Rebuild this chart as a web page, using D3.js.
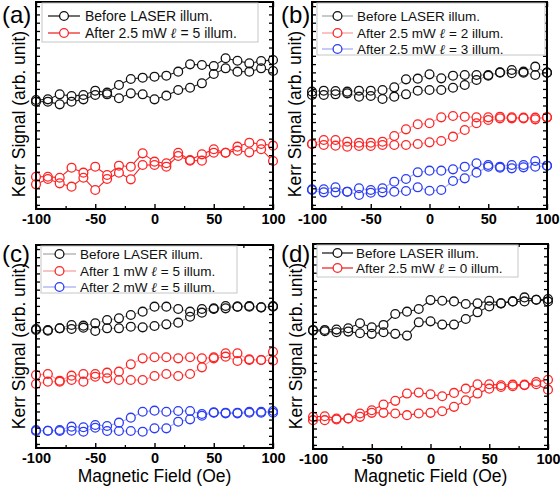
<!DOCTYPE html>
<html><head><meta charset="utf-8">
<script src="https://cdn.jsdelivr.net/npm/d3@7"></script>
<style>body{margin:0;background:#fff}svg{display:block}</style>
</head><body><svg id="c" width="560" height="487"></svg>
<script>
// ---------- DATA ----------
const fieldOe = [-100,-90,-80,-70,-60,-50,-40,-30,-20,-10,0,10,20,30,40,50,60,70,80,90,100];
const xTickLabels = [-100,-50,0,50,100];
const xMinorTicks = [-75,-25,25,75];

// panel (a)
const aBeforeUp   = [13.16,13.24,13.85,13.65,13.77,14.29,14.05,14.98,15.70,15.86,15.98,16.10,16.59,17.47,17.39,17.27,18.20,17.91,17.59,17.87,18.00];
const aBeforeDown = [12.96,12.96,12.64,12.96,13.24,13.77,13.85,13.37,13.97,13.85,13.24,13.69,14.37,14.65,15.18,16.30,16.99,16.59,16.59,16.99,16.67];
const aAfterUp    = [3.90,3.90,3.78,4.99,4.39,5.11,4.11,5.23,5.11,6.72,5.72,5.52,6.80,5.92,6.60,7.21,6.80,7.53,8.01,7.85,7.65];
const aAfterDown  = [2.98,3.62,3.10,2.70,3.78,2.29,3.62,4.39,3.58,5.31,5.31,5.11,6.40,5.84,5.84,6.80,6.80,7.05,6.84,7.21,5.80];
// panel (b)
const bBeforeUp   = [14.17,14.29,14.25,14.17,14.29,14.29,14.37,14.69,15.66,15.74,16.26,15.78,16.10,16.18,16.18,16.18,16.51,16.79,16.59,17.19,16.47];
const bBeforeDown = [13.77,13.77,13.85,13.97,13.57,13.65,13.29,13.57,13.85,14.29,14.37,14.37,14.65,14.98,15.58,16.10,16.47,16.39,16.47,16.18,16.47];
const bL2Up       = [7.85,8.33,8.33,8.13,8.01,8.01,8.13,8.82,9.62,10.23,10.35,11.07,11.23,11.15,11.07,11.07,11.15,11.07,11.03,11.03,11.07];
const bL2Down     = [7.85,7.73,7.65,7.53,7.61,7.61,7.73,7.73,7.73,7.85,8.05,8.21,8.74,9.54,10.35,10.75,10.95,10.95,10.95,10.83,11.07];
const bL3Up       = [2.38,2.38,2.62,2.09,2.50,2.29,2.50,3.30,3.62,4.43,4.63,4.63,4.79,5.11,5.52,5.31,5.11,5.31,5.31,5.80,5.23];
const bL3Down     = [2.29,2.01,2.01,2.09,1.69,1.97,2.01,2.09,2.17,2.62,2.21,2.29,3.38,3.70,4.39,5.11,4.99,4.91,5.03,5.11,5.23];
// panel (c)
const cBeforeUp   = [14.66,14.53,14.74,15.15,15.07,15.35,15.76,15.97,16.38,16.79,17.41,17.41,17.12,16.79,17.12,17.20,17.49,17.41,17.49,17.32,17.49];
const cBeforeDown = [14.53,14.45,14.74,14.66,14.82,14.41,14.74,14.74,14.94,14.86,15.02,15.23,15.44,16.17,16.67,17.12,17.20,17.41,17.41,17.32,17.41];
const c1mWUp      = [8.99,9.11,8.29,8.91,9.11,9.11,9.28,9.40,10.30,11.04,11.17,11.17,11.04,11.17,11.04,11.17,11.66,11.66,10.84,10.84,11.86];
const c1mWDown    = [7.88,8.17,8.17,8.37,8.17,8.78,8.58,8.37,8.37,8.37,8.87,9.11,8.87,9.11,9.93,11.04,11.25,10.71,10.92,10.84,10.76];
const c2mWUp      = [2.22,2.13,2.22,2.63,2.55,2.83,2.71,3.12,3.74,4.47,4.60,4.47,4.56,4.56,4.19,4.39,4.35,4.35,4.47,4.47,4.56];
const c2mWDown    = [2.09,2.13,2.09,2.13,2.01,2.50,2.09,2.09,2.09,2.01,2.42,2.42,3.24,3.53,3.98,4.35,4.27,4.27,4.35,4.35,4.35];
// panel (d)
const dBeforeUp   = [14.52,14.52,14.56,14.72,15.33,14.85,15.13,16.46,16.75,17.07,18.16,18.08,18.00,17.68,17.76,18.08,17.76,18.00,18.49,18.20,18.28];
const dBeforeDown = [14.44,14.36,14.24,14.32,14.12,14.04,14.24,14.04,13.83,15.45,15.57,15.17,15.17,15.86,16.67,17.39,17.76,18.00,18.00,18.20,18.00];
const dL0Up       = [3.92,4.00,3.72,3.72,4.33,4.73,5.42,5.87,6.76,6.88,6.67,6.43,6.84,7.36,7.89,7.89,7.77,7.85,7.85,8.17,8.45];
const dL0Down     = [3.52,3.52,3.60,3.72,3.92,4.41,4.41,4.33,4.13,4.33,4.41,4.61,5.14,5.95,6.76,7.36,7.56,7.65,7.77,7.89,7.24];

const legendA = ["Before LASER illum.", "After 2.5 mW \u2113 = 5 illum."];
const legendB = ["Before LASER illum.", "After 2.5 mW \u2113 = 2 illum.", "After 2.5 mW \u2113 = 3 illum."];
const legendC = ["Before LASER illum.", "After 1 mW \u2113 = 5 illum.", "After 2 mW \u2113 = 5 illum."];
const legendD = ["Before LASER illum.", "After 2.5 mW \u2113 = 0 illum."];
const panelLetters = ["(a)","(b)","(c)","(d)"];
const yLabel = "Kerr Signal (arb. unit)";
const xLabel = "Magnetic Field (Oe)";

// ---------- STYLE / LAYOUT ----------
const FONT = "'Liberation Sans', Arial, sans-serif";
const BLACK = "#111", RED = "#ff2424", BLUE = "#2a3cf5";
const darkLine = {k:"#222", r:"#ee2a2a", b:"#2a3cf5"};
const lightLine = {k:"#a8aeae", r:"#f6a3a3", b:"#a6aef2"};
const col = {k:BLACK, r:RED, b:BLUE};

const panels = [
  {L:36, R:273, T:2, B:209, letter:panelLetters[0], lx:2, ly:22.5, lines:darkLine, fs:14,
   legend:{x:42,y:3,w:216,h:39, sx0:48, sx1:80, tx:85, rows:[16,33]}, names:legendA,
   series:[["k",aBeforeDown,aBeforeUp],["r",aAfterDown,aAfterUp]], ylabY:114, xlab:false},
  {L:312, R:547, T:2, B:209, letter:panelLetters[1], lx:281, ly:22.5, lines:lightLine, fs:13.5,
   legend:{x:317,y:3,w:228,h:52, sx0:322, sx1:353, tx:357, rows:[16,33,49]}, names:legendB,
   series:[["k",bBeforeDown,bBeforeUp],["r",bL2Down,bL2Up],["b",bL3Down,bL3Up]], ylabY:114, xlab:false},
  {L:36, R:273, T:245, B:448, letter:panelLetters[2], lx:2, ly:262, lines:lightLine, fs:13.5,
   legend:{x:41,y:246,w:196,h:47, sx0:43, sx1:76, tx:80, rows:[254,271,287]}, names:legendC,
   series:[["k",cBeforeDown,cBeforeUp],["r",c1mWDown,c1mWUp],["b",c2mWDown,c2mWUp]], ylabY:346, xlab:true},
  {L:313, R:548, T:244, B:449, letter:panelLetters[3], lx:281, ly:262, lines:darkLine, fs:13.5,
   legend:{x:317,y:245,w:201,h:32, sx0:322, sx1:353, tx:356, rows:[253,268]}, names:legendD,
   series:[["k",dBeforeDown,dBeforeUp],["r",dL0Down,dL0Up]], ylabY:346, xlab:true}
];

const svg = d3.select("#c");
const R = 4.4;

function gapSegments(g, pts, color) {
  for (let i = 0; i < pts.length - 1; i++) {
    const [x1,y1] = pts[i], [x2,y2] = pts[i+1];
    const dx = x2-x1, dy = y2-y1, d = Math.hypot(dx,dy);
    if (d <= 2*R + 0.5) continue;
    const ux = dx/d, uy = dy/d;
    g.append("line").attr("x1",x1+ux*R).attr("y1",y1+uy*R)
      .attr("x2",x2-ux*R).attr("y2",y2-uy*R)
      .attr("stroke",color).attr("stroke-width",1.1);
  }
}

panels.forEach(p => {
  const x = d3.scaleLinear().domain([-100,100]).range([p.L,p.R]);
  const y = d3.scaleLinear().domain([0,25]).range([p.B,p.T]);
  const g = svg.append("g");

  // data
  p.series.forEach(([c, down, up]) => {
    const asc = fieldOe.map((f,i)=>[x(f), y(down[i])]);
    const desc = fieldOe.map((f,i)=>[x(f), y(up[i])]).reverse();
    const loop = asc.concat(desc);
    gapSegments(g, loop, p.lines[c]);
    g.selectAll(null).data(loop).enter().append("circle")
      .attr("cx",d=>d[0]).attr("cy",d=>d[1]).attr("r",R)
      .attr("fill","none").attr("stroke",col[c]).attr("stroke-width",1.3);
  });

  // axes: ticks inward on all four sides
  const yTicks = d3.range(0.5, 25, 1);
  const ax = g.append("g");
  const bottom = d3.axisBottom(x).tickValues(xTickLabels).tickSize(-5).tickFormat(d3.format("d")).tickPadding(5);
  const bAx = ax.append("g").attr("transform",`translate(0,${p.B})`).call(bottom);
  bAx.select(".domain").remove();
  bAx.selectAll("line").attr("stroke","#000").attr("stroke-width",1.4);
  bAx.selectAll("text").attr("font-family",FONT).attr("font-weight","bold").attr("font-size",14.5).attr("fill","#000")
     .text(d => d < 0 ? "-" + Math.abs(d) : d);
  const bMin = ax.append("g").attr("transform",`translate(0,${p.B})`).call(d3.axisBottom(x).tickValues(xMinorTicks).tickSize(-3).tickFormat(""));
  bMin.select(".domain").remove(); bMin.selectAll("line").attr("stroke","#000").attr("stroke-width",1.3);
  const tAx = ax.append("g").attr("transform",`translate(0,${p.T})`).call(d3.axisTop(x).tickValues(xTickLabels).tickSize(-5).tickFormat(""));
  tAx.select(".domain").remove(); tAx.selectAll("line").attr("stroke","#000").attr("stroke-width",1.4);
  const tMin = ax.append("g").attr("transform",`translate(0,${p.T})`).call(d3.axisTop(x).tickValues(xMinorTicks).tickSize(-3).tickFormat(""));
  tMin.select(".domain").remove(); tMin.selectAll("line").attr("stroke","#000").attr("stroke-width",1.3);
  const lAx = ax.append("g").attr("transform",`translate(${p.L},0)`).call(d3.axisLeft(y).tickValues(yTicks).tickSize(-4).tickFormat(""));
  lAx.select(".domain").remove(); lAx.selectAll("line").attr("stroke","#000").attr("stroke-width",1.3);
  const rAx = ax.append("g").attr("transform",`translate(${p.R},0)`).call(d3.axisRight(y).tickValues(yTicks).tickSize(-4).tickFormat(""));
  rAx.select(".domain").remove(); rAx.selectAll("line").attr("stroke","#000").attr("stroke-width",1.3);

  // frame
  g.append("rect").attr("x",p.L).attr("y",p.T).attr("width",p.R-p.L).attr("height",p.B-p.T)
    .attr("fill","none").attr("stroke","#000").attr("stroke-width",2);

  // legend
  const lg = p.legend;
  g.append("rect").attr("x",lg.x).attr("y",lg.y).attr("width",lg.w).attr("height",lg.h)
    .attr("fill","#fff").attr("stroke","#c4c8c8").attr("stroke-width",1);
  p.names.forEach((nm,i) => {
    const c = p.series[i][0], yy = lg.rows[i], cx = (lg.sx0+lg.sx1)/2;
    g.append("line").attr("x1",lg.sx0).attr("x2",cx-R).attr("y1",yy).attr("y2",yy).attr("stroke",p.lines[c]).attr("stroke-width",1.3);
    g.append("line").attr("x1",cx+R).attr("x2",lg.sx1).attr("y1",yy).attr("y2",yy).attr("stroke",p.lines[c]).attr("stroke-width",1.3);
    g.append("circle").attr("cx",cx).attr("cy",yy).attr("r",R).attr("fill","none").attr("stroke",col[c]).attr("stroke-width",1.3);
    const t = g.append("text").attr("x",lg.tx).attr("y",yy).attr("dy","0.36em")
      .attr("font-family",FONT).attr("font-size",p.fs).attr("fill","#111");
    const parts = nm.split("\u2113");
    t.append("tspan").text(parts[0]);
    if (parts.length > 1) {
      t.append("tspan").attr("font-weight","bold").attr("font-style","italic").attr("font-family","'DejaVu Serif', serif").text("\u2113");
      t.append("tspan").text(parts[1]);
    }
  });

  // panel letter
  svg.append("text").attr("x",p.lx).attr("y",p.ly).attr("font-family",FONT).attr("font-size",24).attr("fill","#000").text(p.letter);
  // y label
  svg.append("text").attr("transform",`translate(${p.L-17},${p.ylabY}) rotate(-90)`).attr("text-anchor","middle")
    .attr("dy","0.35em").attr("font-family",FONT).attr("font-size",17.5).attr("fill","#000").text(yLabel);
  if (p.xlab) {
    svg.append("text").attr("x",(p.L+p.R)/2).attr("y",482).attr("text-anchor","middle")
      .attr("font-family",FONT).attr("font-size",17.5).attr("fill","#000").text(xLabel);
  }
});
</script></body></html>
